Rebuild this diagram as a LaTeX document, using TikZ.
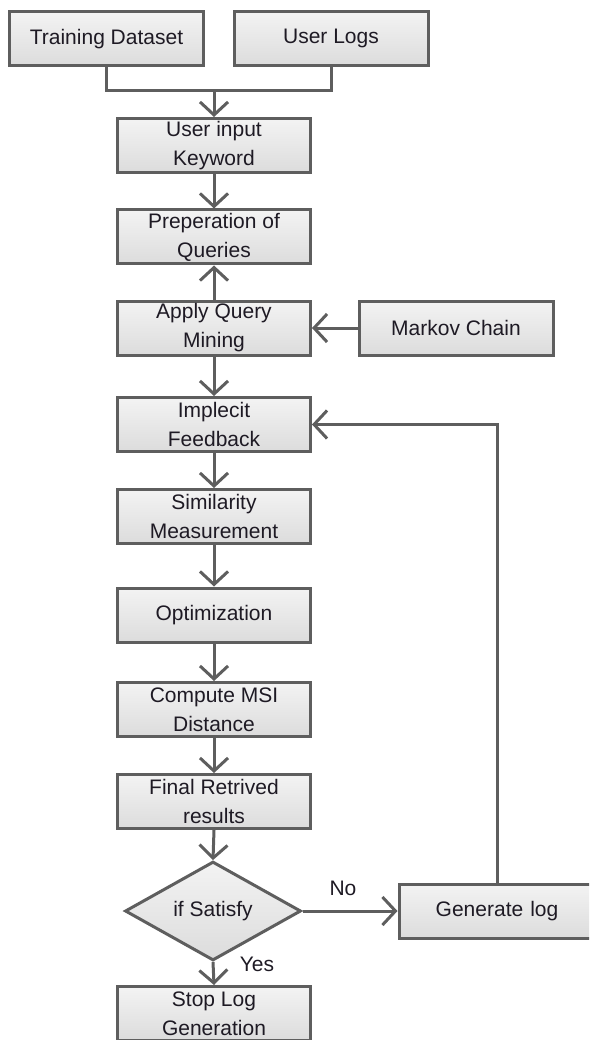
\documentclass[tikz,border=0pt]{standalone}
\usepackage{fontspec}
\setmainfont{Liberation Sans}
\usetikzlibrary{arrows.meta,shapes.geometric}
\definecolor{edge}{HTML}{5E5E5E}
\definecolor{topc}{HTML}{F3F3F3}
\definecolor{botc}{HTML}{DCDCDC}
\definecolor{txt}{HTML}{1E1A24}
\tikzset{
  box/.style={draw=edge, line width=3pt, top color=topc, bottom color=botc,
    minimum width=193pt, minimum height=54pt, inner sep=0pt, align=center,
    text=txt, font=\fontsize{21}{29}\selectfont},
  dia/.style={diamond, draw=edge, line width=3pt, top color=topc, bottom color=botc,
    minimum width=176pt, minimum height=79pt, inner sep=0pt, align=center,
    text=txt, font=\fontsize{21}{29}\selectfont},
  lbl/.style={text=txt, font=\fontsize{21}{29}\selectfont, inner sep=0pt},
  conn/.style={draw=edge, line width=3pt},
  arr/.style={conn, -{Straight Barb[length=13pt, width=28pt, line width=3pt]}}
}
\begin{document}
\begin{tikzpicture}[x=1pt, y=-1pt]
\useasboundingbox (0,0) rectangle (589,1040);
\begin{scope}
\clip (0,0) rectangle (589,1040);
\node[box, minimum width=194pt] (td) at (106.5,39) {Training Dataset};
\node[box, minimum width=194pt] (ul) at (331,38.5) {User Logs};
\node[box] (ui) at (214,145.5) {User input\\Keyword};
\node[box] (pq) at (214,237) {Preperation of\\Queries};
\node[box] (aq) at (214,328) {Apply Query\\Mining};
\node[box, minimum width=194pt] (mc) at (456,328) {Markov Chain};
\node[box] (if) at (214,424.5) {Implecit\\Feedback};
\node[box] (sm) at (214,516.5) {Similarity\\Measurement};
\node[box] (op) at (214,615) {Optimization};
\node[box] (cm) at (214,709.5) {Compute MSI\\Distance};
\node[box] (fr) at (214,801.5) {Final Retrived\\results};
\node[dia] (ds) at (213,911) {if Satisfy};
\node[box, minimum width=206pt, text width=196pt] (gl) at (502,911) {\hspace*{-10pt}Generate log};
\node[box] (sl) at (214,1013.5) {Stop Log\\Generation};
\node[lbl] (no) at (343,888) {No};
\node[lbl] (yes) at (257,964) {Yes};
\coordinate (m) at (214,91);
\coordinate (lt) at (497,883);
\coordinate (lp) at (497,424.5);
\draw[conn] (td.south) |- (m) -| (ul.south);
\draw[arr] (m) -- (ui.north);
\draw[arr] (ui.south) -- (pq.north);
\draw[arr] (aq.north) -- (pq.south);
\draw[arr] (mc.west) -- (aq.east);
\draw[arr] (aq.south) -- (if.north);
\draw[arr] (if.south) -- (sm.north);
\draw[arr] (sm.south) -- (op.north);
\draw[arr] (op.south) -- (cm.north);
\draw[arr] (cm.south) -- (fr.north);
\draw[arr] (fr.south) -- (ds.north);
\draw[arr] (ds.east) -- (gl.west);
\draw[arr] (ds.south) -- (sl.north);
\draw[arr] (lt) -- (lp) -- (if.east);
\end{scope}
\end{tikzpicture}
\end{document}
